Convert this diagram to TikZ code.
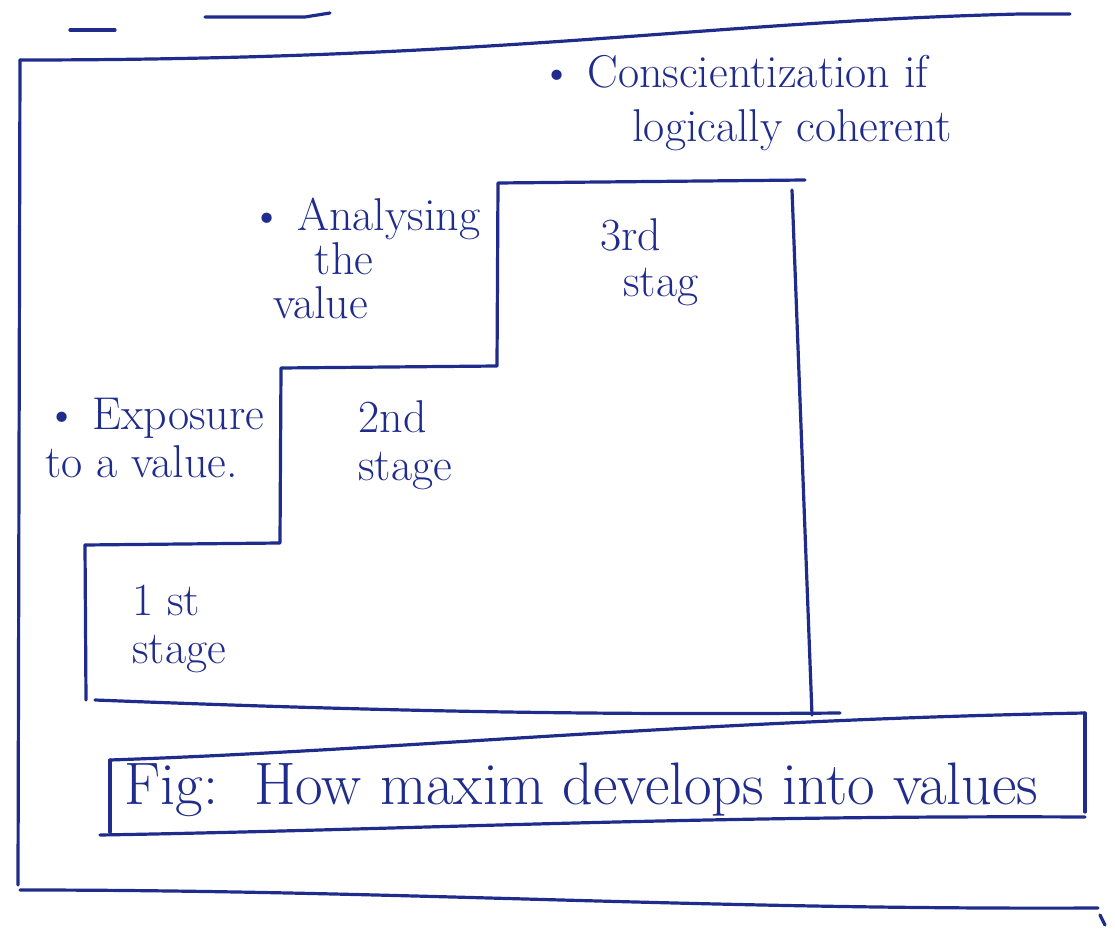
\documentclass[tikz,border=0pt]{standalone}
\usepackage{tikz}
\definecolor{ink}{RGB}{32,44,140}
\tikzset{
  pen/.style={draw=ink, line width=1.6pt, line cap=round, line join=round},
  hand/.style={text=ink, align=left, inner sep=0pt, font=\fontsize{23}{27}\selectfont},
  captext/.style={text=ink, inner sep=0pt, font=\fontsize{30}{34}\selectfont}
}
\begin{document}
\begin{tikzpicture}[x=0.5pt, y=-0.5pt]
\useasboundingbox (0,0) rectangle (1115,931);
% strokes left from the cut-off line above
\draw[pen] (70,30) -- (115,30);
\draw[pen] (205,17) -- (305,17) -- (330,13);
% outer frame
\draw[pen] (1070,14) -- (1020,14) .. controls (700,22) and (500,60) .. (20,60);
\draw[pen] (20,60) -- (18,885);
\draw[pen] (20,890) .. controls (400,890) and (700,910) .. (1098,908);
\draw[pen] (1100,915) -- (1105,925);
% staircase
\draw[pen] (85,545) -- (280,543) -- (281,368) -- (497,366) -- (498,183) -- (805,180);
\draw[pen] (85,545) -- (86,700);
\draw[pen] (95,700) .. controls (400,712) and (600,715) .. (840,713);
\draw[pen] (792,190) -- (812,715);
% caption box
\draw[pen] (110,760) .. controls (400,750) and (700,720) .. (1085,713);
\draw[pen] (110,760) -- (110,832);
\draw[pen] (100,835) .. controls (400,830) and (700,815) .. (1085,817);
\draw[pen] (1085,713) -- (1085,812);
% texts
\node[hand, anchor=north west] (t3) at (540,55) {\textbullet\ Conscientization if\\[0pt]\hspace*{2em}logically coherent};
\node[hand, anchor=north west] (t2) at (250,198) {\textbullet\ Analysing\\[-5pt]\hspace*{1.4em}the\\[-5pt]\hspace*{0.5em}value};
\node[hand, anchor=north west] (s3) at (600,218) {3rd\\[-4pt]\hspace*{0.5em}stag};
\node[hand, anchor=north west] (t1) at (45,398) {\textbullet\ Exposure\\[-3pt]to a value.};
\node[hand, anchor=north west] (s2) at (358,400) {2nd\\[-3pt]stage};
\node[hand, anchor=north west] (s1) at (132,585) {1 st\\[-3pt]stage};
\node[captext, anchor=west] (fig) at (124,790) {Fig:\ \ How maxim develops into values};
\end{tikzpicture}
\end{document}
